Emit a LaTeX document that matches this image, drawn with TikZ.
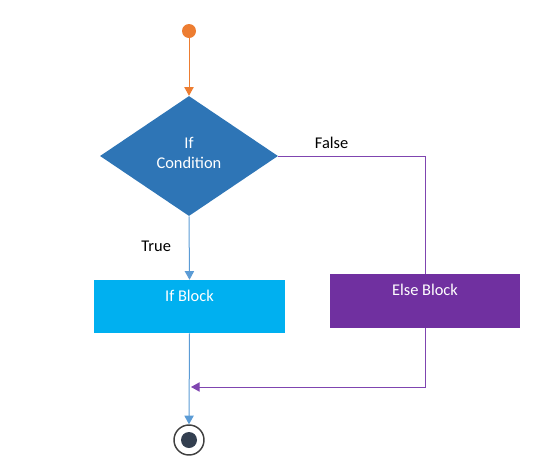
\documentclass[tikz,border=0pt]{standalone}
\usepackage{fontspec}
\setmainfont{Carlito}
\usetikzlibrary{shapes.geometric}
\usetikzlibrary{positioning}
\usetikzlibrary{arrows.meta}
\usetikzlibrary{math}

\definecolor{startorange}{HTML}{ED7D31}
\definecolor{condblue}{HTML}{2E75B6}
\definecolor{ifcyan}{HTML}{00B0F0}
\definecolor{elsepurple}{HTML}{7030A0}
\definecolor{flowblue}{HTML}{5B9BD5}
\definecolor{flowpurple}{HTML}{7F45B0}
\definecolor{enddark}{HTML}{333F50}

\tikzset{
  >={Triangle[length=6.5pt,width=7pt]},
  every node/.style={font=\fontsize{12.3}{15}\selectfont},
  startdot/.style={circle,fill=startorange,inner sep=0pt,minimum size=10.5pt},
  decision/.style={diamond,fill=condblue,text=white,align=center,inner sep=0pt,
    minimum width=133.5pt,minimum height=90pt},
  block/.style={rectangle,text=white,inner sep=0pt,text height=8.25pt,text depth=16.5pt},
  endring/.style={circle,draw=black!75,line width=1.1pt,fill=white,inner sep=0pt,minimum size=22.5pt},
  enddot/.style={circle,fill=enddark,inner sep=0pt,minimum size=12pt},
  orangeline/.style={draw=startorange,line width=0.75pt},
  blueline/.style={draw=flowblue,line width=0.75pt},
  purpleline/.style={draw=flowpurple,line width=0.75pt},
}

\begin{document}
\begin{tikzpicture}[x=0.75pt,y=-0.75pt]
      \useasboundingbox (0,0) rectangle (539,465);

      % nodes
      \node[startdot] (start) at (189,31) {};
      \node[decision] (cond) at (189,156) {};
      \node[text=white,align=center] (condtext) at (189,153) {If\\Condition};
      \node[block,fill=ifcyan,minimum width=143.25pt,minimum height=39.75pt] (ifblock) at (189.5,306.5) {If Block};
      \node[block,fill=elsepurple,minimum width=142.5pt,minimum height=40.5pt] (elseblock) at (425,301) {Else Block};
      \node[endring] (stop) at (189,440) {};
      \node[enddot] (stopdot) at (stop) {};
      \coordinate (join) at (191,387);

      % connectors
      \draw[orangeline,->] (start) -- (cond.north);
      \draw[blueline,->] (cond.south) -- node[left=10pt,pos=0.48,text=black]{True} (ifblock.north);
      \draw[purpleline] (cond.east) -| (elseblock.north);
      \node[above right=2pt and 24pt of cond.east] (falselabel) {False};
      \draw[purpleline,->] (elseblock.south) |- (join);
      \draw[blueline,->] (ifblock.south) -- (stop.north);
\end{tikzpicture}
\end{document}
